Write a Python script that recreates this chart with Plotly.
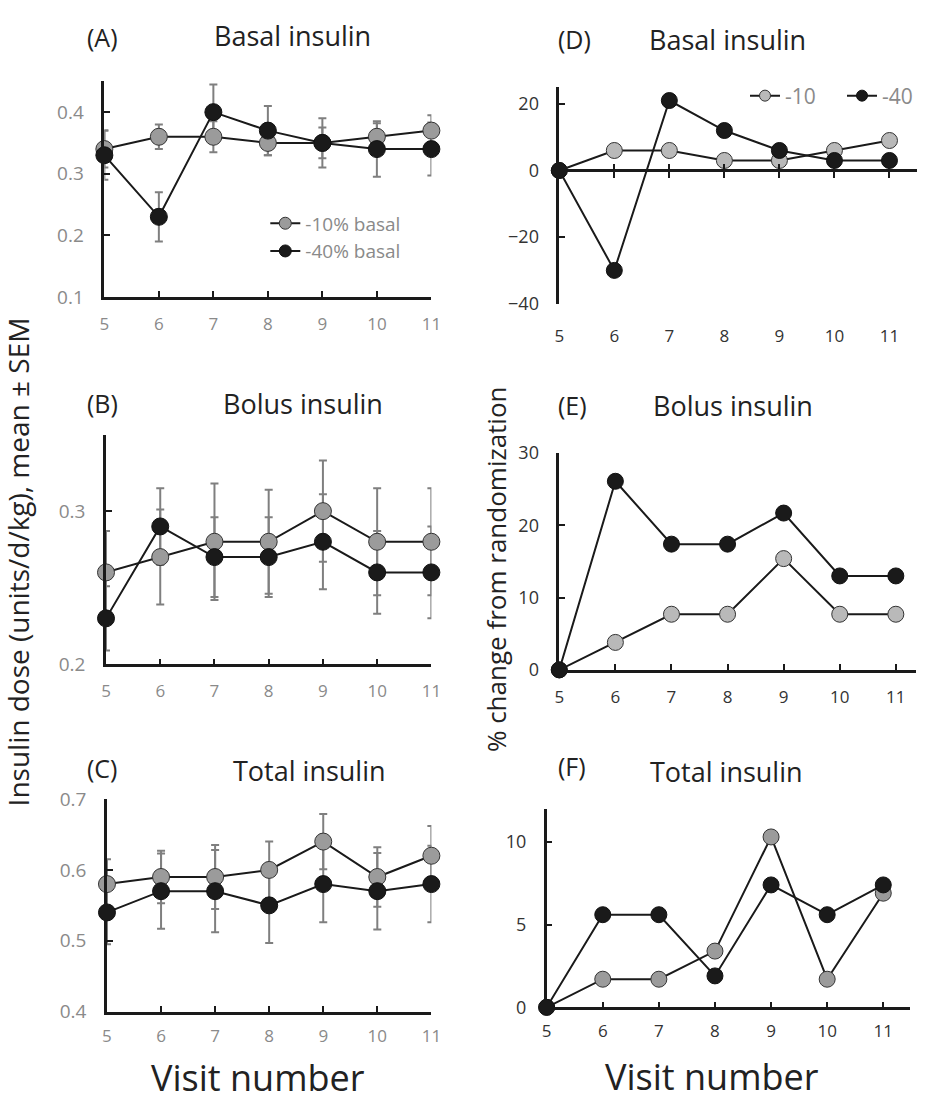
import plotly.graph_objects as go

W, H = 939, 1105
FONT = "Open Sans"

visits = [5, 6, 7, 8, 9, 10, 11]

basal_10 = [0.34, 0.36, 0.36, 0.35, 0.35, 0.36, 0.37]
basal_10_sem = [0.03, 0.02, 0.025, 0.02, 0.04, 0.022, 0.025]
basal_40 = [0.33, 0.23, 0.40, 0.37, 0.35, 0.34, 0.34]
basal_40_sem = [0.04, 0.04, 0.045, 0.04, 0.025, 0.045, 0.043]

bolus_10 = [0.26, 0.27, 0.28, 0.28, 0.30, 0.28, 0.28]
bolus_10_sem = [0.027, 0.031, 0.038, 0.034, 0.033, 0.035, 0.035]
bolus_40 = [0.23, 0.29, 0.27, 0.27, 0.28, 0.26, 0.26]
bolus_40_sem = [0.021, 0.025, 0.026, 0.026, 0.031, 0.027, 0.030]

total_10 = [0.58, 0.59, 0.59, 0.60, 0.64, 0.59, 0.62]
total_10_sem = [0.035, 0.037, 0.045, 0.04, 0.039, 0.042, 0.042]
total_40 = [0.54, 0.57, 0.57, 0.55, 0.58, 0.57, 0.58]
total_40_sem = [0.045, 0.053, 0.058, 0.053, 0.054, 0.054, 0.054]

pct_basal_10 = [0, 6, 6, 3, 3, 6, 9]
pct_basal_40 = [0, -30, 21, 12, 6, 3, 3]
pct_bolus_10 = [0, 3.8, 7.7, 7.7, 15.4, 7.7, 7.7]
pct_bolus_40 = [0, 26.1, 17.4, 17.4, 21.7, 13.0, 13.0]
pct_total_10 = [0, 1.7, 1.7, 3.4, 10.3, 1.7, 6.9]
pct_total_40 = [0, 5.6, 5.6, 1.9, 7.4, 5.6, 7.4]

panel_letters = ["(A)", "(B)", "(C)", "(D)", "(E)", "(F)"]
panel_titles = ["Basal insulin", "Bolus insulin", "Total insulin",
                "Basal insulin", "Bolus insulin", "Total insulin"]
legend_left = ["-10% basal", "-40% basal"]
legend_right = ["-10", "-40"]


def fx(p):
    return p / W


def fy(p):
    return 1 - p / H


BLACK = "#1a1a1a"
GREY_L = "#9b9b9b"
GREY_R = "#b9b9b9"
ERR = "#7f7f7f"
TICK_L = "#8a8a8a"
TICK_R = "#333333"
TEXT = "#222222"

fig = go.Figure()

# panel geometry (pixels): x0, x1, ytop, ybottom
geo = {
    1: (102.3, 439, 70, 290.7),
    2: (104, 439, 431.7, 667),
    3: (105, 439, 805, 1022.7),
    4: (570.7, 939, 76, 297.7),
    5: (570.7, 938, 450.7, 672.7),
    6: (557.7, 932, 815, 1018.3),
}
yranges = {1: [0.1, 0.45], 2: [0.2, 0.35], 3: [0.4, 0.7],
           4: [-40, 25], 5: [0, 30], 6: [0, 12]}
xranges = {1: [5, 11], 2: [5, 11], 3: [5, 11],
           4: [5, 11.5], 5: [5, 11.36], 6: [5, 11.48]}
ytickvals = {1: [0.1, 0.2, 0.3, 0.4], 2: [0.2, 0.3], 3: [0.4, 0.5, 0.6, 0.7],
             4: [-40, -20, 0, 20], 5: [0, 10, 20, 30], 6: [0, 5, 10]}
xstandoff = {1: 10, 2: 10, 3: 7, 4: 20, 5: 10, 6: 7}


def ax(i, a):
    return a if i == 1 else f"{a}{i}"


left_sets = [
    (1, basal_10, basal_10_sem, basal_40, basal_40_sem),
    (2, bolus_10, bolus_10_sem, bolus_40, bolus_40_sem),
    (3, total_10, total_10_sem, total_40, total_40_sem),
]

# error bars first (drawn beneath markers)
for i, y10, s10, y40, s40 in left_sets:
    for yy, ss in ((y40, s40), (y10, s10)):
        fig.add_trace(go.Scatter(
            x=visits, y=yy, mode="markers",
            marker=dict(size=1, color="rgba(0,0,0,0)"),
            error_y=dict(type="data", array=ss, visible=True, color=ERR,
                         thickness=2, width=4),
            xaxis=ax(i, "x"), yaxis=ax(i, "y"), showlegend=False,
            hoverinfo="skip", cliponaxis=False))

for i, y10, s10, y40, s40 in left_sets:
    fig.add_trace(go.Scatter(
        x=visits, y=y10, mode="lines+markers",
        line=dict(color=BLACK, width=2),
        marker=dict(size=17, color=GREY_L, line=dict(color="#333", width=1)),
        xaxis=ax(i, "x"), yaxis=ax(i, "y"), showlegend=False, cliponaxis=False))
    fig.add_trace(go.Scatter(
        x=visits, y=y40, mode="lines+markers",
        line=dict(color=BLACK, width=2),
        marker=dict(size=17, color=BLACK, line=dict(color="#111", width=1)),
        xaxis=ax(i, "x"), yaxis=ax(i, "y"), showlegend=False, cliponaxis=False))

right_sets = [
    (4, pct_basal_10, pct_basal_40, GREY_R),
    (5, pct_bolus_10, pct_bolus_40, GREY_R),
    (6, pct_total_10, pct_total_40, GREY_L),
]
for i, y10, y40, gcol in right_sets:
    fig.add_trace(go.Scatter(
        x=visits, y=y10, mode="lines+markers",
        line=dict(color=BLACK, width=2),
        marker=dict(size=16, color=gcol, line=dict(color="#333", width=1)),
        xaxis=ax(i, "x"), yaxis=ax(i, "y"), showlegend=False, cliponaxis=False))
    fig.add_trace(go.Scatter(
        x=visits, y=y40, mode="lines+markers",
        line=dict(color=BLACK, width=2),
        marker=dict(size=16, color=BLACK, line=dict(color="#111", width=1)),
        xaxis=ax(i, "x"), yaxis=ax(i, "y"), showlegend=False, cliponaxis=False))

# legend-only traces
fig.add_trace(go.Scatter(x=[None], y=[None], mode="lines+markers", name=legend_left[0],
                         line=dict(color=BLACK, width=2),
                         marker=dict(size=12, color=GREY_L, line=dict(color="#333", width=1)),
                         legend="legend", xaxis="x", yaxis="y"))
fig.add_trace(go.Scatter(x=[None], y=[None], mode="lines+markers", name=legend_left[1],
                         line=dict(color=BLACK, width=2),
                         marker=dict(size=12, color=BLACK, line=dict(color="#111", width=1)),
                         legend="legend", xaxis="x", yaxis="y"))
fig.add_trace(go.Scatter(x=[None], y=[None], mode="lines+markers", name=legend_right[0],
                         line=dict(color=BLACK, width=2),
                         marker=dict(size=11, color=GREY_R, line=dict(color="#333", width=1)),
                         legend="legend2", xaxis="x4", yaxis="y4"))
fig.add_trace(go.Scatter(x=[None], y=[None], mode="lines+markers", name=legend_right[1],
                         line=dict(color=BLACK, width=2),
                         marker=dict(size=11, color=BLACK, line=dict(color="#111", width=1)),
                         legend="legend2", xaxis="x4", yaxis="y4"))

# dummy traces for the zero-line axes in panel D
for a in ("x7", "x8"):
    fig.add_trace(go.Scatter(x=visits, y=[None] * len(visits), mode="markers",
                             xaxis=a, yaxis="y4", showlegend=False, hoverinfo="skip"))

layout = dict(
    width=W, height=H, margin=dict(l=0, r=0, t=0, b=0),
    paper_bgcolor="white", plot_bgcolor="white",
    font=dict(family=FONT, color=TEXT),
    showlegend=True,
)

for i in range(1, 7):
    x0, x1, yt, yb = geo[i]
    left = i <= 3
    tcol = TICK_L if left else TICK_R
    xa = dict(domain=[fx(x0), fx(x1)], range=xranges[i], anchor=ax(i, "y"),
              tickvals=visits, ticktext=[str(v) for v in visits],
              showgrid=False, zeroline=False,
              showline=(i != 4), linecolor=BLACK, linewidth=2.5,
              ticks=("" if i == 4 else "inside"), ticklen=6, tickwidth=2, tickcolor=BLACK,
              tickfont=dict(size=17, color=tcol, family=FONT),
              ticklabelstandoff=xstandoff[i])
    ya = dict(domain=[fy(yb), fy(yt)], range=yranges[i], anchor=ax(i, "x"),
              tickvals=ytickvals[i], showgrid=False, zeroline=False,
              showline=True, linecolor=BLACK, linewidth=2.5,
              ticks="inside", ticklen=6, tickwidth=2, tickcolor=BLACK,
              tickfont=dict(size=(19 if left else 18), color=tcol, family=FONT),
              ticklabelstandoff=14)
    if left:
        ya["tickformat"] = ".1f"
    layout[ax(i, "xaxis")] = xa
    layout[ax(i, "yaxis")] = ya

# zero line with crossing ticks for panel D
x0, x1, yt, yb = geo[4]
d0, d1 = fy(yb), fy(yt)
r0, r1 = yranges[4]
zpos = d0 + (0 - r0) / (r1 - r0) * (d1 - d0)
common = dict(overlaying="x4", anchor="free", position=zpos, range=xranges[4],
              tickvals=visits[1:], showticklabels=False, showgrid=False, zeroline=False,
              ticklen=6, tickwidth=2, tickcolor=BLACK)
layout["xaxis7"] = dict(common, showline=True, linecolor=BLACK, linewidth=2.5, ticks="outside")
layout["xaxis8"] = dict(common, showline=False, ticks="inside")

layout["legend"] = dict(x=fx(268), y=fy(196), xanchor="left", yanchor="top",
                        bgcolor="rgba(0,0,0,0)", font=dict(size=19, color=TICK_L, family=FONT),
                        tracegroupgap=0, itemwidth=30)
layout["legend2"] = dict(x=fx(762), y=fy(64), xanchor="left", yanchor="top",
                         orientation="h", bgcolor="rgba(0,0,0,0)",
                         entrywidth=52, entrywidthmode="pixels",
                         font=dict(size=21, color=TICK_L, family=FONT), itemwidth=30)

ann = []
letter_pos = [(100, 25), (100, 399), (100, 773), (586, 27), (584, 401), (584, 771)]
title_pos = [(296, 23), (307, 400), (314, 776), (744, 27), (750, 402), (743, 777)]
for k in range(6):
    lx, ly = letter_pos[k]
    tx, ty = title_pos[k]
    ann.append(dict(x=fx(lx), y=fy(ly), xref="paper", yref="paper", text=panel_letters[k],
                    showarrow=False, xanchor="center", yanchor="middle",
                    font=dict(size=25, color=TEXT, family=FONT)))
    ann.append(dict(x=fx(tx), y=fy(ty), xref="paper", yref="paper", text=panel_titles[k],
                    showarrow=False, xanchor="center", yanchor="middle",
                    font=dict(size=27, color=TEXT, family=FONT)))

ann.append(dict(x=fx(13), y=fy(562), xref="paper", yref="paper",
                text="Insulin dose (units/d/kg), mean ± SEM", textangle=-90,
                showarrow=False, xanchor="center", yanchor="middle",
                font=dict(size=28, color=TEXT, family=FONT)))
ann.append(dict(x=fx(505), y=fy(569), xref="paper", yref="paper",
                text="% change from randomization", textangle=-90,
                showarrow=False, xanchor="center", yanchor="middle",
                font=dict(size=26, color=TEXT, family=FONT)))
ann.append(dict(x=fx(260), y=fy(1090), xref="paper", yref="paper", text="Visit number",
                showarrow=False, xanchor="center", yanchor="middle",
                font=dict(size=36, color=TEXT, family=FONT)))
ann.append(dict(x=fx(728), y=fy(1089), xref="paper", yref="paper", text="Visit number",
                showarrow=False, xanchor="center", yanchor="middle",
                font=dict(size=36, color=TEXT, family=FONT)))
layout["annotations"] = ann

fig.update_layout(**layout)
fig.write_html("out.html")
